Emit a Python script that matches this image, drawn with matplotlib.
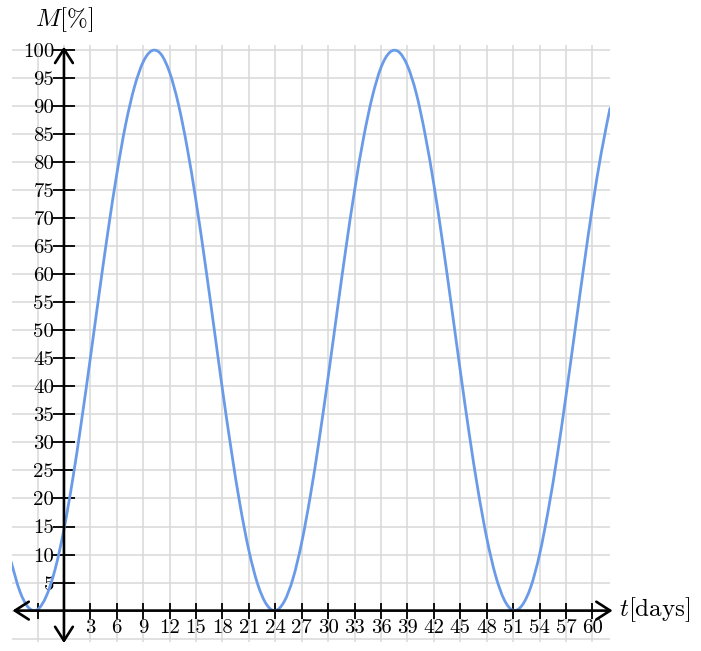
import matplotlib
matplotlib.use("Agg")
import matplotlib.pyplot as plt
import numpy as np
from matplotlib.path import Path
from matplotlib.patches import PathPatch

# ---- data ----
t_days = list(range(-6, 63))
moon_pct = [8.7, 3.4, 0.5, 0.2, 2.6, 7.4, 14.5, 23.5, 33.9, 45.1, 56.6, 67.7, 77.9,
            86.7, 93.4, 97.9, 99.9, 99.3, 96.0, 90.3, 82.5, 73.0, 62.3, 50.9, 39.4,
            28.6, 18.8, 10.7, 4.7, 1.1, 0.0, 1.6, 5.7, 12.2, 20.7, 30.7, 41.7, 53.2,
            64.5, 75.0, 84.2, 91.6, 96.9, 99.6, 99.7, 97.2, 92.3, 85.0, 76.0, 65.6,
            54.3, 42.8, 31.7, 21.6, 13.0, 6.3, 1.9, 0.05, 0.9, 4.2, 10.0, 18.0, 27.5,
            38.3, 49.7, 61.1, 72.0, 81.6, 89.6]
x_ticks = list(range(-3, 61, 3))
x_ticklabels = ["" if v <= 0 else str(v) for v in x_ticks]
y_ticks = list(range(5, 101, 5))
y_ticklabels = [str(v) for v in y_ticks]
x_grid = list(range(-6, 64, 3))
y_grid = list(range(-5, 101, 5))

plt.rcParams["mathtext.fontset"] = "cm"

fig = plt.figure(figsize=(7.01, 6.51), dpi=100)
ax = fig.add_axes([12/701, 1 - 642/651, (610 - 12)/701, (642 - 45)/651])
ax.set_xlim(-5.9, 62)
ax.set_ylim(-5.6, 100.9)

for gx in x_grid:
    ax.axvline(gx, color="#d9d9d9", lw=1.1, zorder=0)
for gy in y_grid:
    ax.axhline(gy, color="#d9d9d9", lw=1.1, zorder=0)

# smooth curve through the read points (Catmull-Rom as cubic Bezier segments)
P = np.column_stack([t_days, moon_pct]).astype(float)
verts = [P[0]]
codes = [Path.MOVETO]
n = len(P)
for i in range(n - 1):
    p0 = P[max(i - 1, 0)]
    p1 = P[i]
    p2 = P[i + 1]
    p3 = P[min(i + 2, n - 1)]
    c1 = p1 + (p2 - p0) / 6.0
    c2 = p2 - (p3 - p1) / 6.0
    verts += [c1, c2, p2]
    codes += [Path.CURVE4] * 3
curve = PathPatch(Path(verts, codes), facecolor="none", edgecolor="#6a9be8",
                  lw=2.0, zorder=3, capstyle="round", joinstyle="round")
ax.add_patch(curve)

for s in ["top", "right", "left", "bottom"]:
    ax.spines[s].set_visible(False)
ax.spines["left"].set_position(("data", 0))
ax.spines["bottom"].set_position(("data", 0))

ax.set_xticks(x_ticks)
ax.set_xticklabels(x_ticklabels, fontfamily="cmr10", fontsize=15)
ax.set_yticks(y_ticks)
ax.set_yticklabels(y_ticklabels, fontfamily="cmr10", fontsize=15)
ax.tick_params(axis="x", direction="inout", length=12, width=1.3, pad=0, color="black")
ax.tick_params(axis="y", direction="inout", length=16, width=1.3, pad=-1, color="black")

arrow_kw = dict(arrowstyle="<->,head_length=0.5,head_width=0.32", lw=1.9, color="black",
                mutation_scale=20, shrinkA=0, shrinkB=0)
ax.annotate("", xy=(62.3, 0), xytext=(-5.85, 0), arrowprops=arrow_kw,
            annotation_clip=False, zorder=5)
ax.annotate("", xy=(0, 100.6), xytext=(0, -5.8), arrowprops=arrow_kw,
            annotation_clip=False, zorder=5)

fig.text(64/701, 1 - 20/651, r"$M[\%]$", fontsize=18, ha="center", va="center")
fig.text(619/701, 1 - 610/651, r"$t[\mathrm{days}]$", fontsize=18, ha="left", va="center")

fig.savefig("out.png", dpi=100)
